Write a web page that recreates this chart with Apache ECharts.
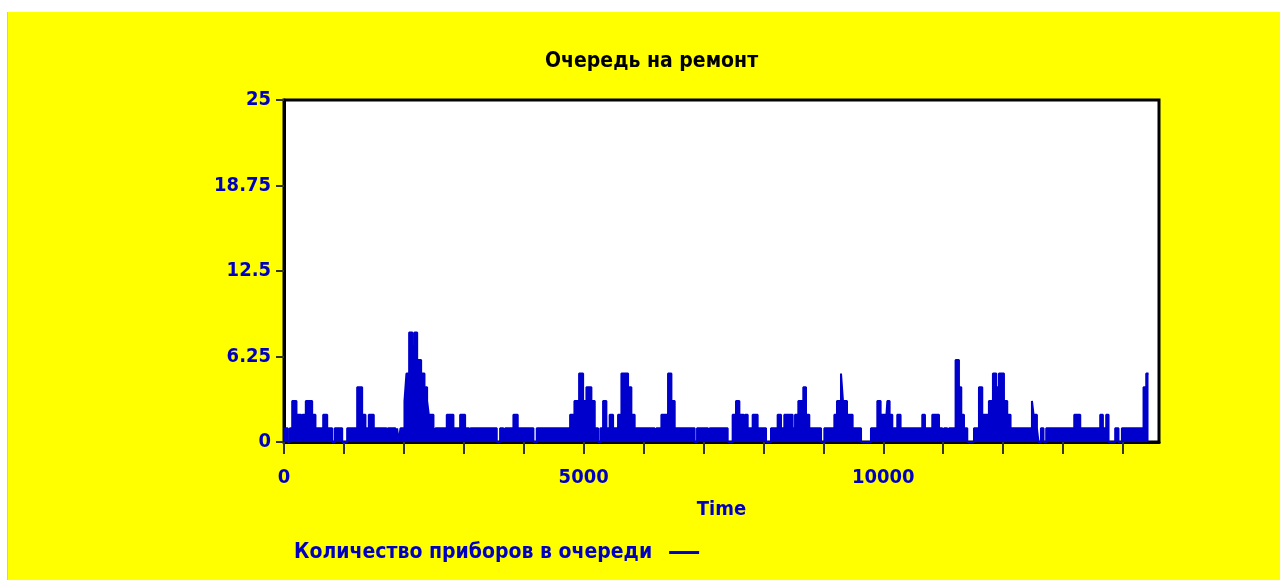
<!DOCTYPE html>
<html>
<head>
<meta charset="utf-8">
<script src="https://cdn.jsdelivr.net/npm/echarts@6/dist/echarts.min.js"></script>
<style>
  html, body { margin: 0; padding: 0; background: #fff; }
  #chart { position: absolute; left: 7px; top: 12px; width: 1273px; height: 568px; border-left: 1px solid #c8c8c8; }
</style>
</head>
<body>
<div id="chart"></div>
<script>
// время (начало ступени) и длина очереди
const times = [
  0, 8, 63, 97, 137, 208, 287, 309, 364, 470, 525, 654, 721, 804, 847, 971, 1054,
  1221, 1304, 1359, 1415, 1498, 1710, 1732, 1860, 1888, 1915, 1943, 2010, 2043,
  2088, 2143, 2177, 2222, 2288, 2344, 2388, 2416, 2494, 2510, 2527, 2716, 2827,
  2939, 3022, 3089, 3111, 3550, 3606, 3661, 3689, 3828, 3900, 4162, 4217, 4774,
  4846, 4924, 4991, 5046, 5129, 5185, 5241, 5279, 5324, 5379, 5434, 5491, 5574,
  5630, 5741, 5796, 5851, 6185, 6213, 6297, 6408, 6464, 6519, 6852, 6892, 7076,
  7103, 7403, 7486, 7542, 7598, 7670, 7693, 7737, 7820, 7903, 8043, 8126, 8237,
  8293, 8348, 8487, 8527, 8582, 8665, 8710, 8765, 8961, 9016, 9183, 9227, 9294,
  9327, 9394, 9488, 9628, 9794, 9900, 9955, 10038, 10067, 10105, 10150, 10233,
  10288, 10650, 10695, 10817, 10929, 10984, 11012, 11067, 11096, 11206, 11262,
  11301, 11346, 11401, 11513, 11596, 11651, 11762, 11829, 11884, 11929, 12013,
  12068, 12123, 12480, 12507, 12563, 12590, 12630, 12673, 12718, 13186, 13286,
  13619, 13664, 13719, 13758, 13869, 13924, 13981, 14342, 14387, 14425
];
const queue = [
  0, 1, 0, 1, 3, 2, 1, 2, 3, 2, 1, 2, 1, 0, 1, 0, 1,
  4, 2, 1, 2, 1, 0, 1, 0, 1, 0, 1, 3, 5,
  8, 7, 8, 6, 5, 4, 3, 2, 1, 0, 1, 2, 1,
  2, 1, 0, 1, 0, 1, 0, 1, 2, 1, 0, 1, 2,
  3, 5, 3, 4, 3, 1, 0, 1, 3, 1, 2, 1, 2,
  5, 4, 2, 1, 0, 1, 2, 5, 3, 1, 0, 1, 0,
  1, 0, 2, 3, 2, 1, 2, 1, 2, 1, 0, 1, 2,
  1, 2, 1, 2, 3, 4, 2, 1, 0, 1, 2, 3, 5,
  3, 2, 1, 0, 1, 3, 2, 1, 3, 2, 1, 2,
  1, 2, 1, 2, 1, 0, 1, 0, 1, 6, 4,
  2, 1, 0, 1, 4, 2, 3, 5, 4, 5, 3,
  2, 1, 3, 2, 1, 0, 1, 0, 1, 2, 1,
  2, 1, 2, 0, 1, 0, 1, 4, 5, 5
];
const yTicks = [0, 6.25, 12.5, 18.75, 25];
const xLabels = [0, 5000, 10000];

const blue = '#0000c0';
const font = '"DejaVu Sans Condensed", "Liberation Sans Narrow", sans-serif';

const chart = echarts.init(document.getElementById('chart'));
chart.setOption({
  backgroundColor: '#ffff00',
  animation: false,
  title: {
    text: 'Очередь на ремонт',
    left: 532,
    top: 34,
    textStyle: { fontFamily: font, fontWeight: 'bold', fontSize: 21, color: '#000' }
  },
  legend: {
    left: 281,
    top: 525,
    align: 'right',
    icon: 'rect',
    itemWidth: 30,
    itemHeight: 3,
    textStyle: { fontFamily: font, fontWeight: 'bold', fontSize: 21, color: blue, padding: [0, 12, 0, 0] },
    data: ['Количество приборов в очереди']
  },
  grid: {
    left: 276,
    right: 122,
    top: 88,
    bottom: 138,
    show: true,
    backgroundColor: '#fff',
    borderColor: '#000',
    borderWidth: 3
  },
  xAxis: {
    type: 'value',
    min: 0,
    max: 14600,
    interval: 1000,
    name: 'Time',
    nameLocation: 'middle',
    nameGap: 58,
    nameTextStyle: { fontFamily: font, fontWeight: 'bold', fontSize: 20, color: blue },
    axisLine: { show: true, lineStyle: { color: '#000', width: 3 } },
    axisTick: { show: true, inside: false, length: 12, lineStyle: { color: '#333', width: 2 } },
    splitLine: { show: false },
    axisLabel: {
      margin: 26,
      fontFamily: font, fontWeight: 'bold', fontSize: 20, color: blue,
      showMaxLabel: false,
      formatter: v => xLabels.includes(v) ? String(v) : ''
    }
  },
  yAxis: {
    type: 'value',
    min: 0,
    max: 25,
    interval: 6.25,
    axisLine: { show: true, lineStyle: { color: '#000', width: 3 } },
    axisTick: { show: true, length: 8, lineStyle: { color: '#333', width: 2 } },
    splitLine: { show: false },
    axisLabel: {
      margin: 13,
      fontFamily: font, fontWeight: 'bold', fontSize: 20, color: blue,
      formatter: v => yTicks.includes(v) ? String(v) : ''
    }
  },
  series: [{
    name: 'Количество приборов в очереди',
    type: 'line',
    step: 'end',
    symbol: 'none',
    color: '#0000cc',
    lineStyle: { color: '#0000cc', width: 2 },
    areaStyle: { color: '#0000cc', opacity: 1 },
    data: times.map((t, i) => [t, queue[i]])
  }]
});
</script>
</body>
</html>
